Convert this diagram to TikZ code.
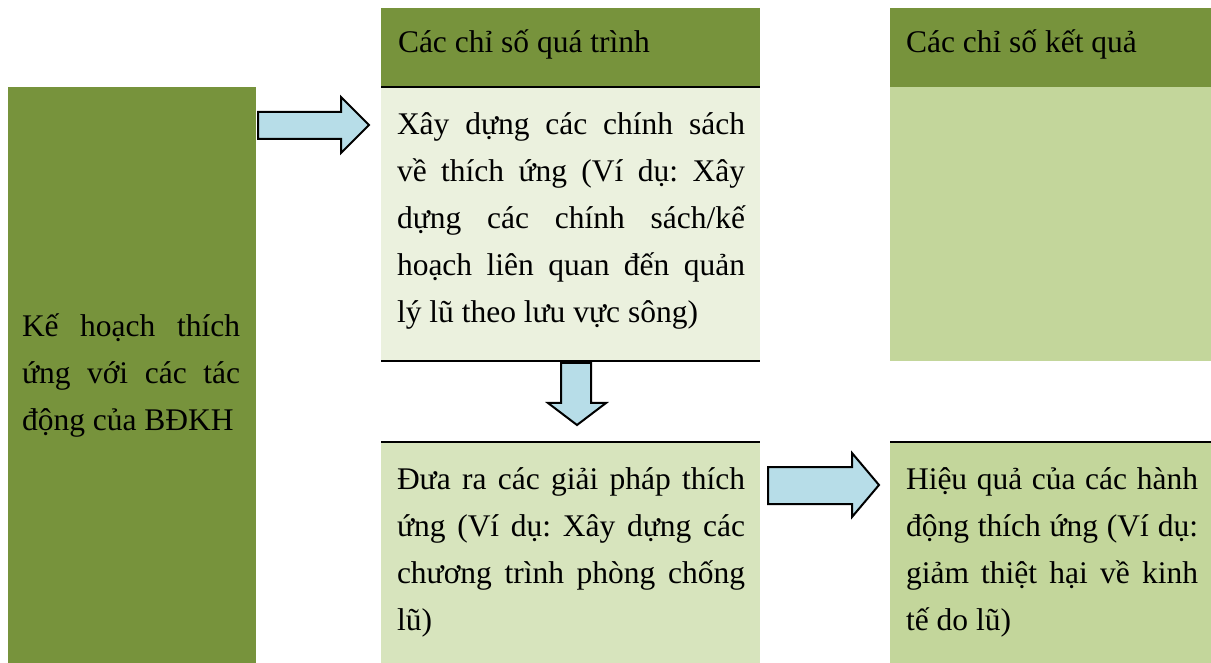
\documentclass[tikz,border=0pt]{standalone}
\usepackage{fontspec}
\setmainfont{Liberation Serif}
\frenchspacing
\definecolor{hdrgreen}{HTML}{77933C}
\definecolor{palegreen}{HTML}{EBF1DE}
\definecolor{softgreen}{HTML}{D7E4BD}
\definecolor{midgreen}{HTML}{C3D69B}
\definecolor{arrowblue}{HTML}{B7DDE8}
\begin{document}
\begin{tikzpicture}[x=0.5pt,y=-0.5pt,
  txt/.style={anchor=base west, inner sep=0pt, outer sep=0pt, align=justify,
    font=\fontsize{15.75pt}{23.5pt}\selectfont\frenchspacing},
  hdr/.style={anchor=base west, inner sep=0pt, outer sep=0pt,
    font=\fontsize{15.75pt}{23.5pt}\selectfont},
  rule/.style={line width=1pt, black},
  blockarrow/.style={draw=black, line width=1pt, fill=arrowblue, line join=miter}]
\useasboundingbox (0,0) rectangle (1211,663);

% cell backgrounds
\fill[hdrgreen] (8,87) rectangle (256,663);
\fill[hdrgreen] (381,8) rectangle (760,87);
\fill[palegreen] (381,87) rectangle (760,361);
\fill[softgreen] (381,442) rectangle (760,663);
\fill[hdrgreen] (890,8) rectangle (1211,87);
\fill[midgreen] (890,87) rectangle (1211,361);
\fill[midgreen] (890,442) rectangle (1211,663);

% table rules
\draw[rule] (381,87) -- (760,87);
\draw[rule] (381,361) -- (760,361);
\draw[rule] (381,442) -- (760,442);
\draw[rule] (890,442) -- (1211,442);

% texts
\node[hdr] (hproc) at (398,53) {Các chỉ số quá trình};
\node[hdr] (hres) at (906,53) {Các chỉ số kết quả};
\node[txt, text width=109pt] (plan) at (22,337)
  {Kế hoạch thích\linebreak ứng với các tác\linebreak động của BĐKH};
\node[txt, text width=174pt] (policy) at (397,135)
  {Xây dựng các chính sách\linebreak về thích ứng (Ví dụ: Xây\linebreak dựng các chính sách/kế\linebreak hoạch liên quan đến quản\linebreak lý lũ theo lưu vực sông)};
\node[txt, text width=174pt] (measure) at (397,489)
  {Đưa ra các giải pháp thích\linebreak ứng (Ví dụ: Xây dựng các\linebreak chương trình phòng chống\linebreak lũ)};
\node[txt, text width=146pt] (effect) at (906,489)
  {Hiệu quả của các hành\linebreak động thích ứng (Ví dụ:\linebreak giảm thiệt hại về kinh\linebreak tế do lũ)};

% block arrows
\draw[blockarrow] (258,112) -- (341,112) -- (341,97) -- (369,125) -- (341,153)
  -- (341,139) -- (258,139) -- cycle;
\draw[blockarrow] (561,363) -- (591,363) -- (591,403) -- (606,403) -- (577,425)
  -- (548,403) -- (561,403) -- cycle;
\draw[blockarrow] (768,467) -- (852,467) -- (852,453) -- (879,485) -- (852,517)
  -- (852,504) -- (768,504) -- cycle;
\end{tikzpicture}
\end{document}
